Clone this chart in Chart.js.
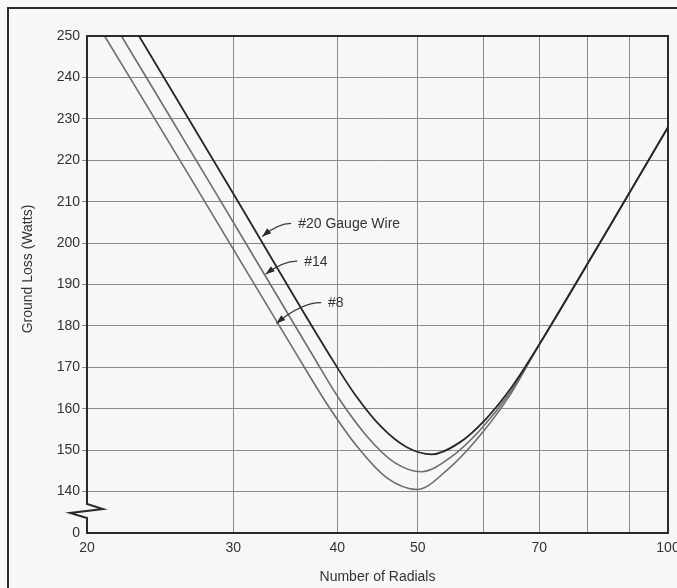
<!DOCTYPE html>
<html>
<head>
<meta charset="utf-8">
<script src="https://cdn.jsdelivr.net/npm/chart.js@4.4.1/dist/chart.umd.min.js"></script>
<style>
  html, body { margin: 0; padding: 0; background: #f7f7f7; }
  #wrap { width: 677px; height: 588px; overflow: hidden; }
</style>
</head>
<body>
<div id="wrap"><canvas id="chart" width="677" height="588"></canvas></div>
<script>
// ===== Data =====
// #20 gauge wire
const radials20 = [23.1, 30.0, 39.2, 42.1, 45.2, 48.5, 52.0, 56.0, 60.3, 65.0, 70.0, 85.0, 100];
const loss20    = [250, 211.9, 172.8, 163.2, 155.6, 150.7, 149.0, 151.7, 157.4, 165.5, 175.5, 203.9, 228];
// #14
const radials14 = [22.0, 28.5, 37.4, 40.3, 43.5, 46.9, 50.5, 54.8, 59.5, 64.5, 70.0, 85.0, 100];
const loss14    = [250, 212.5, 172.8, 162.1, 153.2, 147.0, 144.8, 148.3, 155.0, 163.8, 175.5, 203.9, 228];
// #8
const radials8  = [21.0, 27.0, 35.8, 38.9, 42.3, 45.9, 49.9, 54.3, 59.1, 64.3, 70.0, 85.0, 100];
const loss8     = [250, 213.8, 172.9, 161.1, 150.8, 143.3, 140.5, 145.3, 153.0, 162.8, 175.5, 203.9, 228];

const xGridTicks  = [20, 30, 40, 50, 60, 70, 80, 90, 100];
const xLabelTicks = [20, 30, 40, 50, 70, 100];
const yTicks      = [130, 140, 150, 160, 170, 180, 190, 200, 210, 220, 230, 240, 250];
const yZeroTick   = 130; // bottom of the broken axis, printed as "0"

// callouts: text anchor and arrow tip, in data units
const calloutText = ["#20 Gauge Wire", "#14", "#8"];
const calloutTipX = [32.5, 32.8, 33.8];
const calloutTipY = [201.6, 192.5, 180.6];
const calloutTxtX = [35.9, 36.5, 39.0];
const calloutTxtY = [204.5, 195.4, 185.4];

// ===== Helpers =====
const FONT = 'Arial, "Liberation Sans", Helvetica, sans-serif';
const INK = "#333";
const GRID = "#8a8a8a";
const zip = (xs, ys) => xs.map((x, i) => ({ x, y: ys[i] }));

function noPadding(scale) {
  scale.paddingLeft = 0;
  scale.paddingRight = 0;
  scale.paddingTop = 0;
  scale.paddingBottom = 0;
}

// ===== Decorations: background, frame, broken axis, callouts, titles =====
const decor = {
  id: "decor",
  beforeDraw(chart) {
    const { ctx, width, height } = chart;
    ctx.save();
    ctx.fillStyle = "#f7f7f7";
    ctx.fillRect(0, 0, width, height);
    ctx.strokeStyle = "#2b2b2b";
    ctx.lineWidth = 2;
    ctx.beginPath();
    ctx.moveTo(8, height);
    ctx.lineTo(8, 8);
    ctx.lineTo(width, 8);
    ctx.stroke();
    ctx.restore();
  },
  afterDatasetsDraw(chart) {
    const { ctx, chartArea: a, scales } = chart;
    const x = scales.x, y = scales.y;
    ctx.save();
    // plot border with the axis break
    ctx.strokeStyle = "#2b2b2b";
    ctx.lineWidth = 2;
    ctx.beginPath();
    ctx.moveTo(a.left, a.bottom);
    ctx.lineTo(a.left, a.bottom - 15);
    ctx.lineTo(a.left - 17, a.bottom - 20);
    ctx.lineTo(a.left + 16, a.bottom - 24);
    ctx.lineTo(a.left, a.bottom - 29);
    ctx.lineTo(a.left, a.top);
    ctx.lineTo(a.right, a.top);
    ctx.lineTo(a.right, a.bottom);
    ctx.closePath();
    ctx.stroke();

    // callouts
    ctx.font = `14px ${FONT}`;
    ctx.textAlign = "left";
    ctx.textBaseline = "middle";
    calloutText.forEach((txt, i) => {
      const tx = x.getPixelForValue(calloutTxtX[i]);
      const ty = y.getPixelForValue(calloutTxtY[i]);
      const px = x.getPixelForValue(calloutTipX[i]);
      const py = y.getPixelForValue(calloutTipY[i]);
      ctx.fillStyle = INK;
      ctx.fillText(txt, tx, ty);
      const sx = tx - 7, sy = ty - 1;
      const cx = px + (sx - px) * 0.55, cy = sy;
      ctx.strokeStyle = "#3a3a3a";
      ctx.lineWidth = 1.2;
      ctx.beginPath();
      ctx.moveTo(sx, sy);
      ctx.quadraticCurveTo(cx, cy, px, py);
      ctx.stroke();
      const ang = Math.atan2(py - cy, px - cx);
      const L = 9, W = 3.2;
      ctx.fillStyle = "#2b2b2b";
      ctx.beginPath();
      ctx.moveTo(px, py);
      ctx.lineTo(px - L * Math.cos(ang) - W * Math.sin(ang), py - L * Math.sin(ang) + W * Math.cos(ang));
      ctx.lineTo(px - L * Math.cos(ang) + W * Math.sin(ang), py - L * Math.sin(ang) - W * Math.cos(ang));
      ctx.closePath();
      ctx.fill();
    });

    // axis titles
    ctx.fillStyle = INK;
    ctx.font = `14px ${FONT}`;
    ctx.textAlign = "center";
    ctx.textBaseline = "middle";
    ctx.fillText("Number of Radials", (a.left + a.right) / 2, 577);
    ctx.translate(28, 269);
    ctx.rotate(-Math.PI / 2);
    ctx.fillText("Ground Loss (Watts)", 0, 0);
    ctx.restore();
  },
};

// ===== Chart =====
const lineStyle = (color, width) => ({
  borderColor: color,
  borderWidth: width,
  pointRadius: 0,
  fill: false,
  cubicInterpolationMode: "monotone",
});

new Chart(document.getElementById("chart"), {
  type: "line",
  data: {
    datasets: [
      { label: "#20 Gauge Wire", data: zip(radials20, loss20), ...lineStyle("#262626", 1.8) },
      { label: "#14", data: zip(radials14, loss14), ...lineStyle("#6d6d6d", 1.6) },
      { label: "#8", data: zip(radials8, loss8), ...lineStyle("#6d6d6d", 1.6) },
    ],
  },
  options: {
    responsive: false,
    animation: false,
    layout: { padding: { left: 0, top: 36, right: 9, bottom: 0 } },
    plugins: { legend: { display: false }, tooltip: { enabled: false } },
    scales: {
      x: {
        type: "logarithmic",
        min: 20,
        max: 100,
        afterBuildTicks(scale) {
          scale.ticks = xGridTicks.map((v) => ({ value: v }));
        },
        afterFit(scale) {
          scale.height = 55;
          noPadding(scale);
        },
        border: { display: false },
        grid: {
          drawTicks: false,
          lineWidth: 1,
          color: (c) => (c.tick && (c.tick.value === 20 || c.tick.value === 100) ? "transparent" : GRID),
        },
        ticks: {
          autoSkip: false,
          maxRotation: 0,
          padding: 7,
          color: INK,
          font: { family: FONT, size: 14 },
          callback: (v) => (xLabelTicks.includes(v) ? String(v) : ""),
        },
      },
      y: {
        type: "linear",
        min: 130,
        max: 250,
        afterBuildTicks(scale) {
          scale.ticks = yTicks.map((v) => ({ value: v }));
        },
        afterFit(scale) {
          scale.width = 87;
          noPadding(scale);
        },
        border: { display: false },
        grid: {
          drawTicks: true,
          tickLength: 5,
          lineWidth: 1,
          color: (c) => (c.tick && (c.tick.value === yZeroTick || c.tick.value === 250) ? "transparent" : GRID),
        },
        ticks: {
          padding: 2,
          color: INK,
          font: { family: FONT, size: 14 },
          callback: (v) => (v === yZeroTick ? "0" : String(v)),
        },
      },
    },
  },
  plugins: [decor],
});
</script>
</body>
</html>
